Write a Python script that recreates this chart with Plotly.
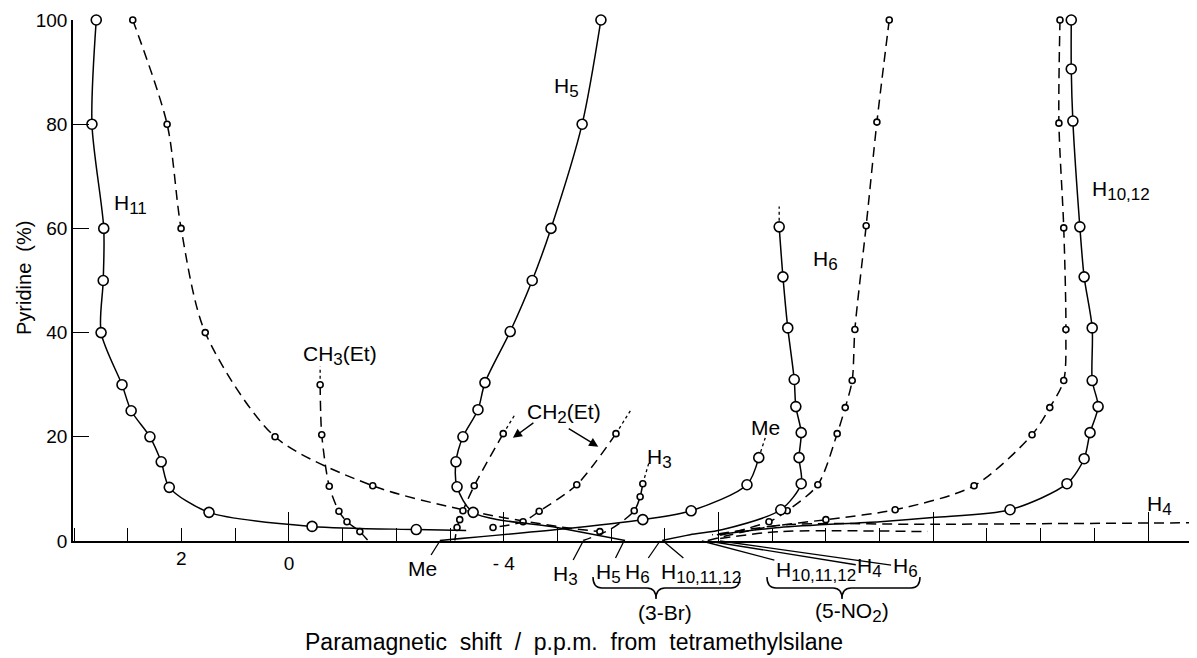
import plotly.graph_objects as go

# ---------------- data (x: paramagnetic shift, p.p.m. ; y: pyridine %) ----------------
# flag 1 = measured point drawn with a circle, 0 = curve continuation only
H11_X = [3.59, 3.67, 3.45, 3.46, 3.50, 3.11, 2.94, 2.59, 2.38, 2.23, 1.49, -0.43, -2.37, -3.3]
H11_Y = [100, 80, 60, 50, 40, 30, 25, 20, 15.2, 10.3, 5.5, 2.8, 2.2, 2.0]
H11_M = [1, 1, 1, 1, 1, 1, 1, 1, 1, 1, 1, 1, 1, 0]

PYL_X = [2.91, 2.27, 2.01, 1.56, 0.26, -1.56, -3.24, -4.99, -5.79]
PYL_Y = [100, 80, 60, 40, 20, 10.6, 6.0, 2.8, 1.8]
PYL_M = [1, 1, 1, 1, 1, 1, 0, 0, 1]

CH3_X = [-0.58, -0.61, -0.75, -0.93, -1.08, -1.32, -1.47]
CH3_Y = [30, 20.4, 10.5, 5.7, 3.7, 1.8, 0.1]
CH3_M = [1, 1, 1, 1, 1, 1, 0]
CH3_EXT = (-0.58, 33.5)

H5_X = [-5.81, -5.46, -4.88, -4.53, -4.12, -3.65, -3.52, -3.24, -3.11, -3.13, -3.43, -4.99, -6.26]
H5_Y = [100, 80, 60, 50, 40.2, 30.4, 25.2, 20, 15.2, 10.4, 5.5, 2.6, 0.1]
H5_M = [1, 1, 1, 1, 1, 1, 1, 1, 1, 1, 1, 0, 0]

CH2A_X = [-3.99, -3.45, -3.24, -3.18, -3.13, -3.09]
CH2A_Y = [20.6, 10.6, 5.8, 4.1, 2.6, 0.1]
CH2A_M = [1, 1, 1, 1, 1, 0]
CH2A_EXT = (-4.21, 24.3)

CH2B_X = [-6.09, -5.36, -4.66, -4.36, -3.80]
CH2B_Y = [20.6, 10.8, 5.7, 3.7, 2.6]
CH2B_M = [1, 1, 1, 1, 1]
CH2B_EXT = (-6.37, 25.2)

H3_X = [-6.59, -6.54, -6.43, -5.98, -5.48]
H3_Y = [11.0, 8.5, 5.8, 2.2, 0.1]
H3_M = [1, 1, 1, 0, 0]
H3_EXT = (-6.72, 15.6)

ME_X = [-8.75, -8.53, -7.49, -6.59, -4.99, -2.81]
ME_Y = [16, 10.8, 5.8, 4.1, 2.2, 0.1]
ME_M = [1, 1, 1, 1, 0, 0]
ME_EXT = (-8.87, 19.8)

H6S_X = [-9.13, -9.2, -9.29, -9.41, -9.44, -9.54, -9.50, -9.54, -9.16, -8.08, -7.47, -6.95]
H6S_Y = [60.3, 50.7, 40.9, 31, 25.8, 20.8, 16, 11, 6.0, 2.2, 1.2, 0.1]
H6S_M = [1, 1, 1, 1, 1, 1, 1, 1, 1, 0, 0, 0]
H6S_EXT = (-9.13, 64.2)

H6D_X = [-11.18, -10.95, -10.75, -10.54, -10.49, -10.36, -10.21, -9.85, -9.28, -8.94, -8.03]
H6D_Y = [100, 80.4, 60.5, 40.6, 30.8, 25.6, 20.6, 10.8, 5.8, 3.7, 1.1]
H6D_M = [1, 1, 1, 1, 1, 1, 1, 1, 1, 1, 0]

H1012S_X = [-14.57, -14.57, -14.6, -14.73, -14.81, -14.96, -14.96, -15.07, -14.92, -14.81,
            -14.49, -13.43, -11.99, -11.01, -9.14, -7.97]
H1012S_Y = [100, 90.6, 80.6, 60.3, 50.7, 40.9, 30.8, 25.8, 20.8, 15.8, 11, 6.0, 4.5, 3.7, 2.6, 1.2]
H1012S_M = [1, 1, 1, 1, 1, 1, 1, 1, 1, 1, 1, 1, 0, 0, 0, 0]

H1012D_X = [-14.36, -14.34, -14.43, -14.47, -14.43, -14.17, -13.84, -12.76, -11.29, -10.0, -8.96, -7.88]
H1012D_Y = [100, 80.2, 60.1, 40.6, 30.8, 25.6, 20.4, 10.6, 6.0, 4.1, 2.8, 1.2]
H1012D_M = [1, 1, 1, 1, 1, 1, 1, 1, 1, 1, 0, 0]

H4_X = [-7.80, -9.14, -12.0, -16.84]
H4_Y = [0.1, 3.0, 3.2, 3.5]
H4_M = [0, 0, 0, 1]

LOW_X = [-8.03, -9.14, -11.9]
LOW_Y = [0.5, 1.8, 1.8]
LOW_M = [0, 0, 0]

X_RANGE = [4.023, -16.912]
Y_TICKS = [0, 20, 40, 60, 80, 100]
X_MAJOR = [0, -4, -8, -12, -16]
X_MAJOR_TEXT = ["0", "- 4", "", "", ""]

FONT = "Liberation Sans"
LS = 21  # label font size

fig = go.Figure()

def add_series(xs, ys, flags, dash, big, ext=None):
    fig.add_trace(go.Scatter(
        x=xs, y=ys, mode="lines", cliponaxis=False, hoverinfo="skip",
        line=dict(color="black", width=1.5, dash=dash, shape="spline", smoothing=0.8)))
    if ext is not None:
        fig.add_trace(go.Scatter(
            x=[xs[0], ext[0]], y=[ys[0], ext[1]], mode="lines", cliponaxis=False,
            hoverinfo="skip", line=dict(color="black", width=1.3, dash="dot")))
    mx = [x for x, f in zip(xs, flags) if f]
    my = [y for y, f in zip(ys, flags) if f]
    fig.add_trace(go.Scatter(
        x=mx, y=my, mode="markers", cliponaxis=False, hoverinfo="skip",
        marker=dict(symbol="circle", size=10 if big else 6, color="white",
                    line=dict(color="black", width=1.6))))

DASH = "10px,6px"
add_series(LOW_X, LOW_Y, LOW_M, DASH, False)
add_series(H4_X, H4_Y, H4_M, DASH, False)
add_series(PYL_X, PYL_Y, PYL_M, DASH, False)
add_series(CH3_X, CH3_Y, CH3_M, DASH, False, CH3_EXT)
add_series(CH2A_X, CH2A_Y, CH2A_M, DASH, False, CH2A_EXT)
add_series(CH2B_X, CH2B_Y, CH2B_M, DASH, False, CH2B_EXT)
add_series(H3_X, H3_Y, H3_M, DASH, False, H3_EXT)
add_series(H6D_X, H6D_Y, H6D_M, DASH, False)
add_series(H1012D_X, H1012D_Y, H1012D_M, DASH, False)
add_series(H11_X, H11_Y, H11_M, "solid", True)
add_series(H5_X, H5_Y, H5_M, "solid", True)
add_series(ME_X, ME_Y, ME_M, "solid", True, ME_EXT)
add_series(H6S_X, H6S_Y, H6S_M, "solid", True, H6S_EXT)
add_series(H1012S_X, H1012S_Y, H1012S_M, "solid", True)

def sub(s):
    return f"<sub><span style='font-size:{LS - 4}px'>{s}</span></sub>"

ann = []
def lab(x, y, text, size=LS):
    ann.append(dict(x=x, y=y, xref="x", yref="y", text=text, showarrow=False,
                    xanchor="center", yanchor="middle",
                    font=dict(family=FONT, size=size, color="black")))

lab(2.96, 64.6, "H" + sub("11"))
lab(-0.95, 35.6, "CH" + sub("3") + "(Et)")
lab(-5.16, 87.1, "H" + sub("5"))
lab(-5.12, 24.4, "CH" + sub("2") + "(Et)")
lab(-6.91, 15.8, "H" + sub("3"))
lab(-8.88, 21.8, "Me")
lab(-10.0, 53.8, "H" + sub("6"))
lab(-15.5, 67.2, "H" + sub("10,12"))
lab(-16.22, 6.8, "H" + sub("4"))

# CH2(Et) arrows
for hx, hy, ax, ay in [(-4.17, 19.8, 22, -16), (-5.76, 18.1, -31, -19)]:
    ann.append(dict(x=hx, y=hy, xref="x", yref="y", text="", showarrow=True,
                    ax=ax, ay=ay, arrowhead=2, arrowsize=1.3, arrowwidth=1.4,
                    arrowcolor="black"))

# labels below the axis with leader lines
def leader(x, text, ax, ay):
    ann.append(dict(x=x, y=0, xref="x", yref="y", text=text, showarrow=True,
                    ax=ax, ay=ay, arrowhead=0, arrowwidth=1.3, arrowcolor="black",
                    standoff=0, font=dict(family=FONT, size=LS, color="black")))

leader(-2.81, "Me", -17, 27)
leader(-5.48, "H" + sub("3"), -18, 34)
leader(-6.24, "H" + sub("5"), -16, 32)
leader(-6.91, "H" + sub("6"), -22, 32)
leader(-6.97, "H" + sub("10,11,12"), 38, 32)
leader(-7.69, "H" + sub("10,11,12"), 114, 30)
leader(-7.80, "H" + sub("4"), 162, 26)
leader(-8.03, "H" + sub("6"), 185, 26)

# tick label "2" (only labelled minor tick)
ann.append(dict(x=2, y=0, xref="x", yref="paper", yshift=-17, text="2", showarrow=False,
                xanchor="center", yanchor="middle",
                font=dict(family=FONT, size=19, color="black")))

# screen-pixel helper for paper-referenced decorations (page body has an 8px margin)
W, H0, L, T = 1124.0, 521.0, 73.0, 20.0
def pp(px, py):
    return ((px - L) / W, (T + H0 - py) / H0)

gx, gy = pp(665, 612)
ann.append(dict(x=gx, y=gy, xref="paper", yref="paper", text="(3-Br)", showarrow=False,
                xanchor="center", yanchor="middle",
                font=dict(family=FONT, size=LS, color="black")))
gx, gy = pp(852, 612)
ann.append(dict(x=gx, y=gy, xref="paper", yref="paper", text="(5-NO" + sub("2") + ")",
                xanchor="center", yanchor="middle",
                showarrow=False, font=dict(family=FONT, size=LS, color="black")))

# axis titles
tx, ty = pp(574, 642)
ann.append(dict(x=tx, y=ty, xref="paper", yref="paper",
                text="Paramagnetic  shift  /  p.p.m.  from  tetramethylsilane",
                xanchor="center", yanchor="middle",
                showarrow=False, font=dict(family=FONT, size=23, color="black")))
tx, ty = pp(24, 278)
ann.append(dict(x=tx, y=ty, xref="paper", yref="paper", text="Pyridine  (%)",
                xanchor="center", yanchor="middle",
                textangle=-90, showarrow=False, font=dict(family=FONT, size=20, color="black")))

# braces
def brace(x1, x2, xm, y0, ym, yt, r=9):
    X1, Y0 = pp(x1, y0)
    X2, _ = pp(x2, y0)
    XM, YM = pp(xm, ym)
    _, YT = pp(xm, yt)
    dr = r / W
    return (f"M {X1},{Y0} Q {X1},{YM} {X1+dr},{YM} L {XM-dr},{YM} "
            f"Q {XM},{YM} {XM},{YT} Q {XM},{YM} {XM+dr},{YM} L {X2-dr},{YM} "
            f"Q {X2},{YM} {X2},{Y0}")

shapes = [
    dict(type="path", xref="paper", yref="paper", path=brace(593, 740, 656, 577, 588, 599),
         line=dict(color="black", width=1.5)),
    dict(type="path", xref="paper", yref="paper", path=brace(767, 920, 842, 577, 588, 599),
         line=dict(color="black", width=1.5)),
]

fig.update_layout(
    width=1197, height=658,
    margin=dict(l=65, r=8, t=12, b=125, autoexpand=False),
    plot_bgcolor="white", paper_bgcolor="white",
    showlegend=False,
    font=dict(family=FONT, size=19, color="black"),
    annotations=ann, shapes=shapes,
    xaxis=dict(range=X_RANGE, automargin=False, showline=True, linecolor="black", linewidth=1.6,
               showgrid=False, zeroline=False, ticks="inside", tickmode="array",
               tickvals=X_MAJOR, ticktext=X_MAJOR_TEXT, ticklen=29, tickwidth=1.4,
               tickcolor="black", ticklabelstandoff=4,
               tickfont=dict(family=FONT, size=19, color="black"),
               minor=dict(ticks="inside", tickmode="linear", tick0=0, dtick=1, ticklen=13,
                          tickwidth=1.4, tickcolor="black", showgrid=False)),
    yaxis=dict(range=[0, 100], automargin=False, showline=True, linecolor="black", linewidth=1.6,
               showgrid=False, zeroline=False, ticks="inside", tickvals=Y_TICKS,
               ticklen=16, tickwidth=1.4, tickcolor="black",
               tickfont=dict(family=FONT, size=19, color="black")),
)

fig.write_html("out.html")
